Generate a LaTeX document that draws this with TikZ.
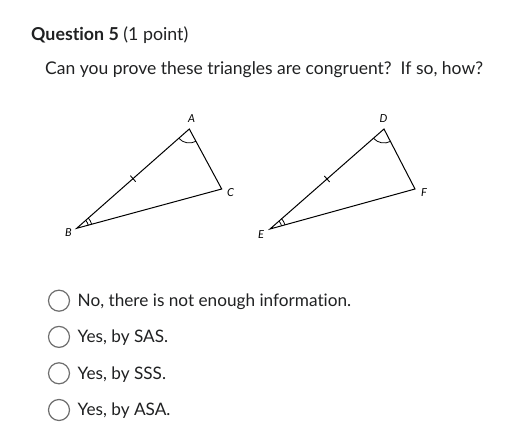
\documentclass[tikz,border=0pt]{standalone}
\usepackage{fontspec}
\setmainfont[Ligatures=CommonOff]{Lato}
\usetikzlibrary{calc,angles}
\definecolor{txt}{HTML}{202122}
\definecolor{radio}{HTML}{6E6E6E}
\tikzset{
  tri/.style={draw=black, line width=1pt, line join=miter},
  vlabel/.style={font=\fontsize{11}{12}\selectfont\itshape, inner sep=0pt, text=black},
  radiobtn/.style={circle, draw=radio, line width=1.2pt, minimum size=21pt, inner sep=0pt},
  opt/.style={anchor=base west, inner sep=0pt, font=\fontsize{17.2}{20}\selectfont, text=txt},
  angmark/.style={draw, line width=0.8pt},
  tickmark/.style={draw, line width=0.9pt}
}
\begin{document}
\begin{tikzpicture}[x=1pt,y=-1pt]
\useasboundingbox[fill=white] (0,0) rectangle (506,446);
% header
\node[anchor=base west, inner sep=0pt, text=txt] (title) at (31,40.5)
  {\fontsize{17.8}{20}\selectfont\textbf{Question 5} (1 point)};
\node[anchor=base west, inner sep=0pt, text=txt] (q) at (45,74.5)
  {\fontsize{17.5}{20}\selectfont Can you prove these triangles are congruent?\ \ If so, how?};
% triangle ABC
\coordinate (A) at (189.3,129);
\coordinate (B) at (76.7,228.3);
\coordinate (C) at (221.7,189);
\draw[tri] (A) -- (C) -- (B) -- cycle;
\pic[angmark, angle radius=14pt] {angle = B--A--C};
\pic[angmark, angle radius=12pt] {angle = C--B--A};
\pic[angmark, angle radius=15.5pt] {angle = C--B--A};
\draw[tickmark] ($($(A)!0.5!(B)$)!4pt!90:(B)$) -- ($($(A)!0.5!(B)$)!4pt!-90:(B)$);
\node[vlabel] (lA) at (191.5,118.5) {A};
\node[vlabel] (lB) at (68.5,233) {B};
\node[vlabel] (lC) at (230.5,192.5) {C};
% triangle DEF
\coordinate (D) at (384,129);
\coordinate (E) at (270,229);
\coordinate (F) at (415,189);
\draw[tri] (D) -- (F) -- (E) -- cycle;
\pic[angmark, angle radius=14pt] {angle = E--D--F};
\pic[angmark, angle radius=12pt] {angle = F--E--D};
\pic[angmark, angle radius=15.5pt] {angle = F--E--D};
\draw[tickmark] ($($(D)!0.5!(E)$)!4pt!90:(E)$) -- ($($(D)!0.5!(E)$)!4pt!-90:(E)$);
\node[vlabel] (lD) at (383.5,118.5) {D};
\node[vlabel] (lE) at (261,235) {E};
\node[vlabel] (lF) at (424,192.5) {F};
% options
\node[radiobtn] (r1) at (59,300.7) {};
\node[radiobtn] (r2) at (59,336.9) {};
\node[radiobtn] (r3) at (59,373.3) {};
\node[radiobtn] (r4) at (59,410) {};
\node[opt] (o1) at (77.5,306.5) {No, there is not enough information.};
\node[opt] (o2) at (77.5,342.7) {Yes, by SAS.};
\node[opt] (o3) at (77.5,379.1) {Yes, by SSS.};
\node[opt] (o4) at (77.5,415.8) {Yes, by ASA.};
\end{tikzpicture}
\end{document}
